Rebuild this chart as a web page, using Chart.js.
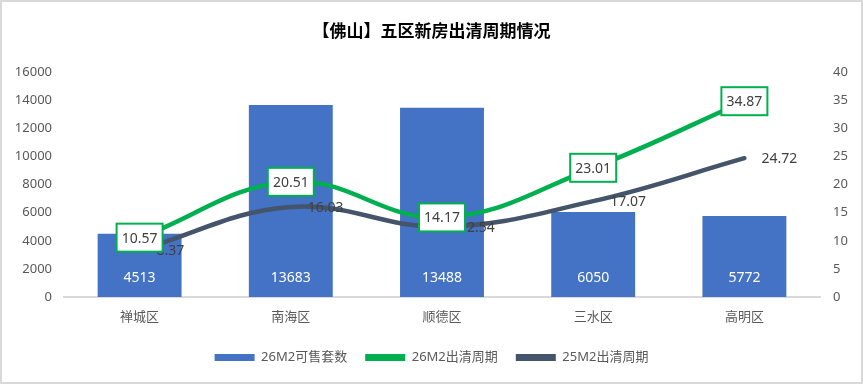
<!DOCTYPE html>
<html>
<head>
<meta charset="utf-8">
<script src="https://cdn.jsdelivr.net/npm/chart.js@4"></script>
<style>
  html, body { margin: 0; padding: 0; background: #fff; }
  #wrap { width: 863px; height: 384px; position: relative; }
</style>
</head>
<body>
<div id="wrap"><canvas id="chart"></canvas></div>
<script>
// --- Data ---
const districts = ["禅城区", "南海区", "顺德区", "三水区", "高明区"];
const stock26 = [4513, 13683, 13488, 6050, 5772];
const cycle26 = [10.57, 20.51, 14.17, 23.01, 34.87];
const cycle25 = [8.37, 16.03, 12.54, 17.07, 24.72];

const FONT = '"Noto Sans", "Noto Sans CJK SC", sans-serif';
const BLUE = "#4472C4";
const GREEN = "#00B050";
const SLATE = "#44546A";

// --- Custom labels + frame ---
const labelPlugin = {
  id: "labels",
  beforeDraw(chart) {
    const ctx = chart.ctx;
    ctx.save();
    ctx.fillStyle = "#fff";
    ctx.fillRect(0, 0, chart.width, chart.height);
    ctx.restore();
  },
  afterDatasetsDraw(chart) {
    const ctx = chart.ctx;
    const zeroY = chart.scales.y.getPixelForValue(0);
    ctx.save();
    ctx.font = "14px " + FONT;
    ctx.textBaseline = "middle";

    // bar values, white, near the base
    ctx.fillStyle = "#fff";
    ctx.textAlign = "center";
    chart.getDatasetMeta(0).data.forEach((el, i) => {
      ctx.fillText(String(stock26[i]), el.x, zeroY - 19);
    });

    // 25M2 labels to the right of the point
    ctx.fillStyle = "#404040";
    ctx.textAlign = "left";
    chart.getDatasetMeta(2).data.forEach((el, i) => {
      ctx.fillText(cycle25[i].toFixed(2), el.x + 17, el.y + 1);
    });

    // 26M2 labels in green boxes
    chart.getDatasetMeta(1).data.forEach((el, i) => {
      const w = 46, h = 28;
      ctx.fillStyle = "#fff";
      ctx.fillRect(el.x - w / 2, el.y - h / 2, w, h);
      ctx.strokeStyle = GREEN;
      ctx.lineWidth = 2;
      ctx.strokeRect(el.x - w / 2, el.y - h / 2, w, h);
      ctx.fillStyle = "#404040";
      ctx.textAlign = "center";
      ctx.fillText(cycle26[i].toFixed(2), el.x, el.y + 1);
    });
    ctx.restore();
  },
  afterDraw(chart) {
    const ctx = chart.ctx;
    ctx.save();
    ctx.strokeStyle = "#D9D9D9";
    ctx.lineWidth = 2;
    ctx.strokeRect(1, 1, chart.width - 2, chart.height - 2);
    ctx.restore();
  }
};

new Chart(document.getElementById("chart"), {
  type: "bar",
  data: {
    labels: districts,
    datasets: [
      { type: "bar", label: "26M2可售套数", data: stock26, backgroundColor: BLUE,
        yAxisID: "y", order: 3, barPercentage: 0.555, categoryPercentage: 1 },
      { type: "line", label: "26M2出清周期", data: cycle26, borderColor: GREEN, backgroundColor: GREEN,
        borderWidth: 4.5, tension: 0.4, pointRadius: 0, yAxisID: "y1", order: 1, borderCapStyle: "round" },
      { type: "line", label: "25M2出清周期", data: cycle25, borderColor: SLATE, backgroundColor: SLATE,
        borderWidth: 4.5, tension: 0.4, pointRadius: 0, yAxisID: "y1", order: 2, borderCapStyle: "round" }
    ]
  },
  options: {
    responsive: true,
    maintainAspectRatio: false,
    animation: false,
    layout: { padding: { left: 0, right: 0, top: 0, bottom: 10 } },
    scales: {
      x: {
        grid: { display: false, drawTicks: false },
        border: { color: "#D9D9D9", width: 2 },
        ticks: { color: "#595959", font: { family: FONT, size: 13 }, padding: 12 },
        afterFit(s) { s.height = 36; }
      },
      y: {
        position: "left", min: 0, max: 16000,
        grid: { display: false, drawTicks: false },
        border: { display: false },
        ticks: { stepSize: 2000, color: "#595959", font: { family: FONT, size: 13 }, padding: 12,
                 callback: v => String(v) },
        afterFit(s) { s.width = 64; }
      },
      y1: {
        position: "right", min: 0, max: 40,
        grid: { display: false, drawTicks: false },
        border: { display: false },
        ticks: { stepSize: 5, color: "#595959", font: { family: FONT, size: 13 }, padding: 13,
                 callback: v => String(v) },
        afterFit(s) { s.width = 43; }
      }
    },
    plugins: {
      title: {
        display: true,
        text: "【佛山】五区新房出清周期情况",
        color: "#000",
        font: { family: FONT, size: 17, weight: "bold" },
        padding: { top: 22, bottom: 30 }
      },
      legend: {
        position: "bottom",
        labels: {
          boxWidth: 40, boxHeight: 7, padding: 18,
          color: "#595959",
          font: { family: FONT, size: 13 },
          generateLabels(chart) {
            return chart.data.datasets.map((ds, i) => ({
              text: ds.label,
              fillStyle: ds.borderColor || ds.backgroundColor,
              strokeStyle: ds.borderColor || ds.backgroundColor,
              lineWidth: 0,
              hidden: false,
              fontColor: "#595959",
              datasetIndex: i
            }));
          }
        }
      },
      tooltip: { enabled: false }
    }
  },
  plugins: [labelPlugin]
});
</script>
</body>
</html>
